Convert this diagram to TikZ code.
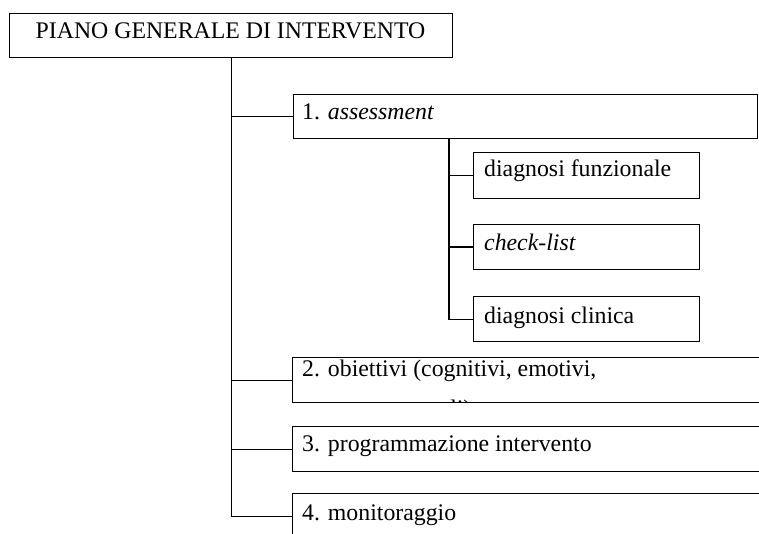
\documentclass[tikz,border=0pt]{standalone}
\usepackage{fontspec}
\setmainfont{Liberation Serif}
\begin{document}
\begin{tikzpicture}[x=1pt,y=-1pt,
  box/.style={draw, line width=1.2pt, rectangle, inner sep=0pt, anchor=north west},
  lbl/.style={anchor=base west, inner sep=0pt, font=\fontsize{23.8}{28}\selectfont},
  conn/.style={line width=1.2pt}]
\useasboundingbox (0,0) rectangle (759,534);
\clip (0,0) rectangle (759,534);
% boxes
\node[box, minimum width=443pt, minimum height=44pt] (top) at (9,13) {};
\node[box, minimum width=464pt, minimum height=44pt] (b1) at (293,94) {};
\node[box, minimum width=226pt, minimum height=46pt] (f1) at (473,152) {};
\node[box, minimum width=226pt, minimum height=45pt] (f2) at (473,224) {};
\node[box, minimum width=226pt, minimum height=45pt] (f3) at (473,296) {};
\node[box, minimum width=520pt, minimum height=45pt] (b2) at (292,357) {};
\node[box, minimum width=520pt, minimum height=45pt] (b3) at (292,426) {};
\node[box, minimum width=520pt, minimum height=45pt] (b4) at (292,493) {};
% labels
\node[lbl, anchor=base] (ttop) at (230.5,39) {PIANO GENERALE DI INTERVENTO};
\node[lbl] (t1) at (302,120) {1. \textit{assessment}};
\node[lbl] (tf1) at (484,177) {diagnosi funzionale};
\node[lbl] (tf2) at (484,251) {\textit{check-list}};
\node[lbl] (tf3) at (484,323) {diagnosi clinica};
\node[lbl] (t2) at (302,376) {2. obiettivi (cognitivi, emotivi,};
\begin{scope}
  \clip (292,357) rectangle (759,401.3);
  \node[lbl] (t2b) at (302,416) {comportamentali)};
\end{scope}
\node[lbl] (t3) at (302,451) {3. programmazione intervento};
\node[lbl] (t4) at (302,520) {4. monitoraggio};
% connectors
\draw[conn] (top.south) |- (b4.west);
\foreach \b in {b1,b2,b3} \draw[conn] (top.south |- \b.west) -- (\b.west);
\coordinate (s) at (449,138);
\draw[conn] (s) |- (f3.west);
\foreach \f in {f1,f2} \draw[conn] (s |- \f.west) -- (\f.west);
\end{tikzpicture}
\end{document}
